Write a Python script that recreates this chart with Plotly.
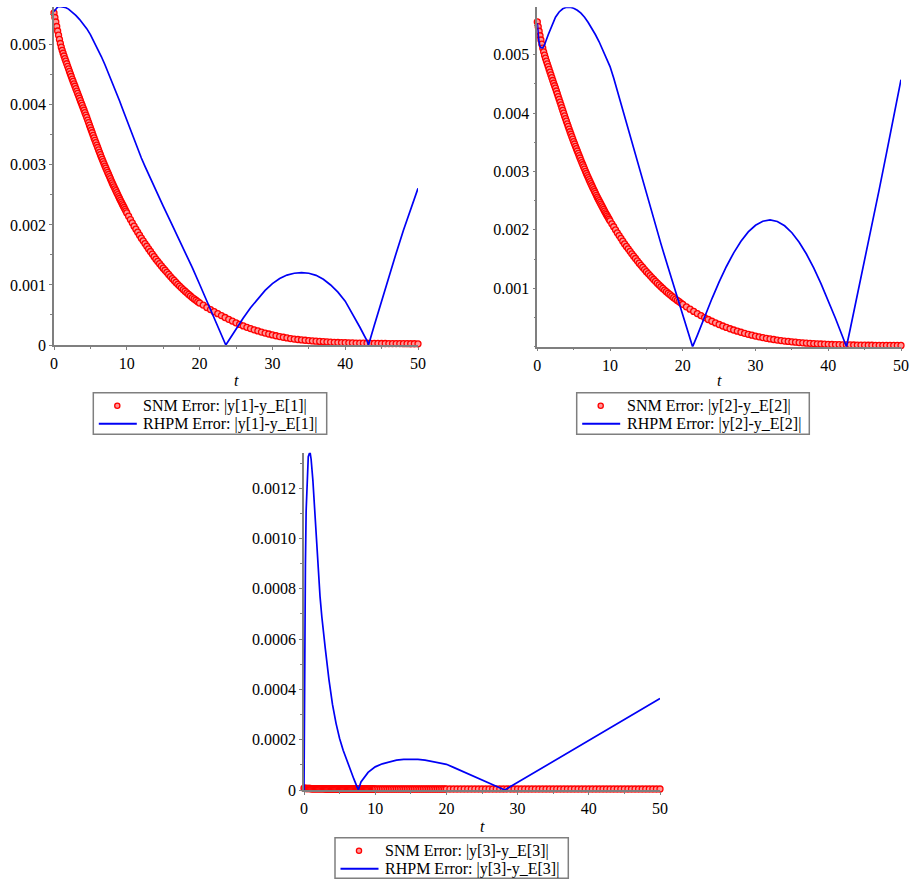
import plotly.graph_objects as go

# ---------------- DATA ----------------
# sample times of the SNM point series (shared by all three panels)
t_snm = [0, 0.125, 0.25, 0.375, 0.5, 0.625, 0.75, 0.875, 1, 1.125,
         1.25, 1.375, 1.5, 1.625, 1.75, 1.875, 2, 2.125, 2.25, 2.375,
         2.5, 2.625, 2.75, 2.875, 3, 3.125, 3.25, 3.375, 3.5, 3.625,
         3.75, 3.875, 4, 4.125, 4.25, 4.375, 4.5, 4.625, 4.75, 4.875,
         5, 5.125, 5.25, 5.375, 5.5, 5.625, 5.75, 5.875, 6, 6.125,
         6.25, 6.375, 6.5, 6.625, 6.75, 6.875, 7, 7.125, 7.25, 7.375,
         7.5, 7.625, 7.75, 7.875, 8, 8.125, 8.25, 8.375, 8.5, 8.625,
         8.75, 8.875, 9, 9.125, 9.25, 9.375, 9.5, 9.625, 9.75, 9.875,
         10,
         10.25, 10.5, 10.75, 11, 11.25, 11.5, 11.75, 12, 12.25, 12.5,
         12.75, 13, 13.25, 13.5, 13.75, 14, 14.25, 14.5, 14.75, 15,
         15.25, 15.5, 15.75, 16, 16.25, 16.5, 16.75, 17, 17.25, 17.5,
         17.75, 18, 18.25, 18.5, 18.75, 19, 19.25, 19.5, 19.75, 20,
         20.5, 21, 21.5, 22, 22.5, 23, 23.5, 24, 24.5, 25,
         25.5, 26, 26.5, 27, 27.5, 28, 28.5, 29, 29.5, 30,
         30.5, 31, 31.5, 32, 32.5, 33, 33.5, 34, 34.5, 35,
         35.5, 36, 36.5, 37, 37.5, 38, 38.5, 39, 39.5, 40,
         40.5, 41, 41.5, 42, 42.5, 43, 43.5, 44, 44.5, 45,
         45.5, 46, 46.5, 47, 47.5, 48, 48.5, 49, 49.5, 50]

# error values in units of 1e-6
snm1_u = [5530, 5455, 5380, 5305, 5230, 5160, 5090, 5022, 4960, 4908,
          4860, 4814, 4770, 4727, 4685, 4642, 4600, 4557, 4515, 4472,
          4430, 4390, 4350, 4310, 4270, 4230, 4190, 4150, 4110, 4070,
          4030, 3990, 3950, 3910, 3870, 3830, 3790, 3747, 3705, 3662,
          3620, 3577, 3535, 3492, 3450, 3410, 3370, 3330, 3290, 3250,
          3210, 3170, 3130, 3092, 3055, 3017, 2980, 2945, 2910, 2875,
          2840, 2805, 2770, 2735, 2700, 2667, 2635, 2602, 2570, 2537,
          2505, 2472, 2440, 2410, 2380, 2350, 2320, 2290, 2260, 2230,
          2200,
          2145, 2090, 2035, 1980, 1930, 1880, 1830, 1780, 1735, 1690,
          1645, 1600, 1557, 1515, 1472, 1430, 1392, 1355, 1317, 1280,
          1245, 1210, 1175, 1140, 1107, 1075, 1042, 1010, 981, 952,
          923, 895, 869, 842, 816, 790, 767, 745, 722, 700,
          665, 625, 590, 555, 522, 490, 458, 428, 398, 370,
          343, 318, 295, 273, 253, 234, 216, 199, 183, 168,
          154, 141, 129, 118, 107, 99, 92, 85, 79, 73,
          68, 63, 59, 55, 51, 48, 45, 42, 40, 38,
          36, 34, 32, 31, 30, 29, 28, 27, 26, 25,
          25, 24, 24, 23, 23, 22, 22, 21, 21, 20]

snm2_u = [5560, 5478, 5400, 5323, 5250, 5178, 5110, 5048, 4990, 4939,
          4890, 4842, 4795, 4747, 4700, 4652, 4605, 4557, 4510, 4467,
          4425, 4377, 4330, 4282, 4235, 4187, 4140, 4092, 4045, 3997,
          3950, 3905, 3860, 3815, 3770, 3725, 3680, 3637, 3595, 3552,
          3510, 3470, 3430, 3390, 3350, 3310, 3270, 3230, 3190, 3152,
          3115, 3077, 3040, 3002, 2965, 2930, 2895, 2860, 2825, 2790,
          2755, 2722, 2690, 2657, 2625, 2592, 2560, 2530, 2500, 2470,
          2440, 2410, 2380, 2350, 2320, 2292, 2265, 2237, 2210, 2182,
          2155,
          2104, 2053, 2001, 1950, 1902, 1855, 1807, 1760, 1717, 1675,
          1632, 1590, 1550, 1510, 1470, 1430, 1393, 1357, 1321, 1285,
          1251, 1218, 1184, 1150, 1119, 1088, 1057, 1026, 998, 970,
          942, 915, 890, 865, 840, 815, 792, 770, 747, 725,
          683, 642, 604, 567, 532, 498, 466, 436, 407, 380,
          354, 330, 307, 286, 266, 247, 229, 212, 197, 182,
          169, 156, 144, 133, 123, 114, 105, 97, 90, 83,
          77, 71, 66, 61, 57, 53, 49, 46, 43, 40,
          38, 36, 34, 32, 31, 30, 29, 28, 27, 26,
          25, 25, 24, 24, 23, 23, 22, 22, 21, 21]

snm3_u = [7, 7, 6, 6, 6, 6, 6, 6, 5, 5,
          5, 5, 5, 5, 5, 5, 5, 5, 5, 5,
          5, 5, 5, 5, 4, 4, 4, 4, 4, 4,
          4, 4, 4, 4, 4, 4, 4, 4, 4, 4,
          4, 4, 4, 4, 4, 4, 4, 4, 4, 4,
          4, 4, 4, 4, 4, 4, 4, 4, 4, 4,
          4, 4, 4, 4, 4, 4, 4, 4, 4, 4,
          4, 4, 4, 4, 4, 4, 4, 4, 4, 4,
          4,
          4, 4, 4, 4, 4, 4, 4, 4, 4, 4,
          4, 4, 4, 4, 4, 4, 4, 4, 4, 4,
          4, 4, 4, 4, 4, 4, 4, 4, 4, 4,
          4, 4, 4, 4, 4, 4, 4, 4, 4, 4,
          4, 4, 4, 4, 4, 4, 4, 4, 4, 4,
          4, 4, 4, 4, 4, 4, 4, 4, 4, 4,
          4, 4, 4, 4, 4, 4, 4, 4, 4, 4,
          4, 4, 4, 4, 4, 4, 4, 4, 4, 4,
          4, 4, 4, 4, 4, 4, 4, 4, 4, 4,
          4, 4, 4, 4, 4, 4, 4, 4, 4, 4]

t_rh1 = [0, 0.25, 0.5, 0.75, 1, 1.5, 2, 2.5, 3, 3.5,
         4, 4.5, 5, 5.5, 6, 6.5, 7, 7.5, 8, 8.5,
         9, 9.5, 10, 10.5, 11, 11.5, 12, 12.5, 13, 13.5,
         14, 15, 16, 17, 18, 19, 20, 21, 22, 23,
         23.6, 24, 25, 26, 27, 28, 29, 30, 31, 32,
         33, 34, 35, 36, 37, 38, 39, 40, 41, 42,
         43, 43.2, 44, 45, 46, 47, 48, 49, 50]
rh1_u = [5555, 5600, 5630, 5640, 5638, 5625, 5595, 5550, 5490, 5425,
         5355, 5270, 5170, 5055, 4935, 4805, 4668, 4525, 4378, 4225,
         4068, 3905, 3740, 3575, 3415, 3262, 3115, 2975, 2838, 2702,
         2570, 2312, 2058, 1805, 1550, 1288, 1012, 732, 452, 170,
         0, 76, 266, 448, 620, 775, 910, 1022, 1108, 1165,
         1195, 1205, 1195, 1160, 1095, 1000, 880, 730, 520, 300,
         70, 0, 330, 740, 1140, 1530, 1910, 2270, 2610]

t_rh2 = [0, 0.1, 0.2, 0.35, 0.5, 0.75, 1, 1.5, 2, 2.5,
         3, 3.5, 4, 4.5, 5, 5.5, 6, 6.5, 7, 7.5,
         8, 8.5, 9, 9.5, 10, 10.5, 11, 11.5, 12, 12.5,
         13, 14, 15, 16, 17, 18, 19, 20, 21, 21.35,
         22, 23, 24, 25, 26, 27, 28, 29, 30, 31,
         32, 33, 34, 35, 36, 37, 38, 39, 40, 41,
         42, 42.5, 43, 44, 45, 46, 47, 48, 49, 50]
rh2_u = [5538, 5380, 5250, 5150, 5120, 5115, 5170, 5340, 5500, 5640,
         5730, 5785, 5810, 5812, 5795, 5760, 5710, 5640, 5550, 5450,
         5340, 5220, 5085, 4950, 4795, 4600, 4380, 4165, 3940, 3711,
         3490, 3050, 2610, 2180, 1760, 1350, 950, 540, 140, 0,
         194, 512, 820, 1109, 1373, 1607, 1806, 1965, 2079, 2148,
         2170, 2144, 2070, 1951, 1789, 1587, 1349, 1080, 790, 482,
         161, 0, 290, 880, 1480, 2080, 2690, 3310, 3940, 4570]

t_rh3 = [0, 0.05, 0.1, 0.2, 0.3, 0.45, 0.6, 0.84, 1, 1.25,
         1.5, 1.75, 2, 2.25, 2.5, 2.75, 3, 3.5, 4, 4.5,
         5, 5.5, 6, 6.5, 7, 7.63, 8, 9, 10, 11,
         12, 13, 14, 15, 16, 17, 18, 19, 20, 21,
         22, 23, 24, 25, 26, 27, 28.2, 30, 32, 34,
         36, 38, 40, 42, 44, 46, 48, 50]
rh3_u = [0, 300, 560, 900, 1110, 1260, 1325, 1345, 1315, 1230,
         1110, 980, 870, 770, 690, 620, 560, 440, 340, 265,
         205, 158, 118, 80, 44, 0, 32, 70, 92, 104,
         113, 119, 122, 123, 122, 119, 114, 109, 102, 90,
         78, 66, 54, 42, 30, 15, 0, 30, 64, 97,
         130, 163, 196, 229, 262, 296, 330, 364]

x_ticks = [0, 10, 20, 30, 40, 50]
x_text = ["0", "10", "20", "30", "40", "50"]
y1_ticks = [0, 0.001, 0.002, 0.003, 0.004, 0.005]
y1_text = ["0", "0.001", "0.002", "0.003", "0.004", "0.005"]
y2_ticks = [0.001, 0.002, 0.003, 0.004, 0.005]
y2_text = ["0.001", "0.002", "0.003", "0.004", "0.005"]
y3_ticks = [0, 0.0002, 0.0004, 0.0006, 0.0008, 0.0010, 0.0012]
y3_text = ["0", "0.0002", "0.0004", "0.0006", "0.0008", "0.0010", "0.0012"]

snm_names = ["SNM Error: |y[1]-y_E[1]|", "SNM Error: |y[2]-y_E[2]|",
             "SNM Error: |y[3]-y_E[3]|"]
rh_names = ["RHPM Error: |y[1]-y_E[1]|", "RHPM Error: |y[2]-y_E[2]|",
            "RHPM Error: |y[3]-y_E[3]|"]

U = 1e-6


def scale(lst):
    return [v * U for v in lst]


# ---------------- FIGURE ----------------
W, H = 910, 880
FONT = "Liberation Serif"
RED = "rgb(255,0,0)"
PINK = "rgb(255,150,150)"
BLUE = "rgb(0,0,245)"
GRAY = "#7f7f7f"


def px_x(p):
    return min(1.0, max(0.0, p / W))


def px_y(p):
    return min(1.0, max(0.0, 1 - p / H))


fig = go.Figure()

panels = [("x", "y", snm1_u, t_rh1, rh1_u),
          ("x2", "y2", snm2_u, t_rh2, rh2_u),
          ("x3", "y3", snm3_u, t_rh3, rh3_u)]
for i, (xa, ya, snm, trh, rh) in enumerate(panels):
    fig.add_trace(go.Scatter(
        x=t_snm, y=scale(snm), xaxis=xa, yaxis=ya,
        mode="markers", cliponaxis=False, showlegend=False,
        name=snm_names[i],
        marker=dict(symbol="circle", size=6, color=PINK,
                    line=dict(width=1.3, color=RED)),
    ))
    fig.add_trace(go.Scatter(
        x=trh, y=scale(rh), xaxis=xa, yaxis=ya,
        mode="lines", cliponaxis=False, showlegend=False,
        name=rh_names[i],
        line=dict(color=BLUE, width=1.7),
    ))

tickfont = dict(family=FONT, size=16, color="black")


def xaxis(dom, anchor):
    return dict(domain=dom, anchor=anchor, range=[0, 50],
                tickvals=x_ticks, ticktext=x_text,
                showgrid=False, zeroline=False, showline=True,
                linecolor=GRAY, linewidth=1.5, automargin=False,
                ticklabeloverflow="allow",
                ticks="outside", ticklen=3, tickcolor=GRAY, tickwidth=1,
                minor=dict(dtick=5, tick0=0, ticks="outside", ticklen=2,
                           tickcolor=GRAY),
                tickfont=tickfont, fixedrange=True)


def yaxis(dom, anchor, rng, tv, tt, minor):
    return dict(domain=dom, anchor=anchor, range=rng,
                tickvals=tv, ticktext=tt,
                showgrid=False, zeroline=False, showline=True,
                linecolor=GRAY, linewidth=1.5, automargin=False,
                ticklabeloverflow="allow",
                ticks="outside", ticklen=3, tickcolor=GRAY, tickwidth=1,
                minor=dict(dtick=minor, tick0=0, ticks="outside", ticklen=2,
                           tickcolor=GRAY),
                tickfont=tickfont, fixedrange=True)


fig.update_layout(
    width=W, height=H,
    margin=dict(l=0, r=0, t=0, b=0, autoexpand=False),
    paper_bgcolor="white", plot_bgcolor="white",
    font=dict(family=FONT, size=16, color="black"),
    showlegend=False,
    xaxis=xaxis([px_x(54), px_x(418)], "y"),
    yaxis=yaxis([px_y(345), px_y(7)], "x", [0, 0.00563], y1_ticks, y1_text, 0.0005),
    xaxis2=xaxis([px_x(537.3), px_x(901)], "y2"),
    yaxis2=yaxis([px_y(346.7), px_y(7.3)], "x2", [0, 0.00581], y2_ticks, y2_text, 0.0005),
    xaxis3=xaxis([px_x(304), px_x(660)], "y3"),
    yaxis3=yaxis([px_y(790), px_y(452.7)], "x3", [0, 0.001341], y3_ticks, y3_text, 0.0001),
)

# axis titles
for cx, cy in [(236, 380), (719, 380), (482, 826)]:
    fig.add_annotation(x=px_x(cx), y=px_y(cy), xref="paper", yref="paper",
                       text="<i>t</i>", showarrow=False,
                       font=dict(family=FONT, size=16, color="black"),
                       xanchor="center", yanchor="middle")

# legend boxes: (left, top, right, bottom) in page pixels
legend_boxes = [(93.3, 392.7, 326.7, 434.3),
                (576.7, 392.7, 809.3, 434.3),
                (335, 837.7, 568.3, 878.3)]
for i, (l, t, r, b) in enumerate(legend_boxes):
    fig.add_shape(type="rect", xref="paper", yref="paper",
                  x0=px_x(l), x1=px_x(r), y0=px_y(b), y1=px_y(t),
                  line=dict(color=GRAY, width=1.5), fillcolor="white",
                  layer="above")
    row1 = t + 13
    row2 = t + 31
    mx = l + 24
    fig.add_shape(type="circle", xref="paper", yref="paper",
                  x0=px_x(mx - 2.6), x1=px_x(mx + 2.6),
                  y0=px_y(row1 + 2.6), y1=px_y(row1 - 2.6),
                  line=dict(color=RED, width=1.3), fillcolor=PINK,
                  layer="above")
    fig.add_shape(type="line", xref="paper", yref="paper",
                  x0=px_x(l + 5.5), x1=px_x(l + 43.5),
                  y0=px_y(row2), y1=px_y(row2),
                  line=dict(color=BLUE, width=2), layer="above")
    fig.add_annotation(x=px_x(l + 48), y=px_y(row1), xref="paper", yref="paper",
                       text=snm_names[i], showarrow=False,
                       font=dict(family=FONT, size=16, color="black"),
                       xanchor="left", yanchor="middle")
    fig.add_annotation(x=px_x(l + 48), y=px_y(row2), xref="paper", yref="paper",
                       text=rh_names[i], showarrow=False,
                       font=dict(family=FONT, size=16, color="black"),
                       xanchor="left", yanchor="middle")

# remove the default page margin so the 910x880 figure fills the window exactly
fig.write_html(
    "out.html",
    config={"displayModeBar": False},
    post_script="document.body.style.margin='0';document.body.style.overflow='hidden';",
)
